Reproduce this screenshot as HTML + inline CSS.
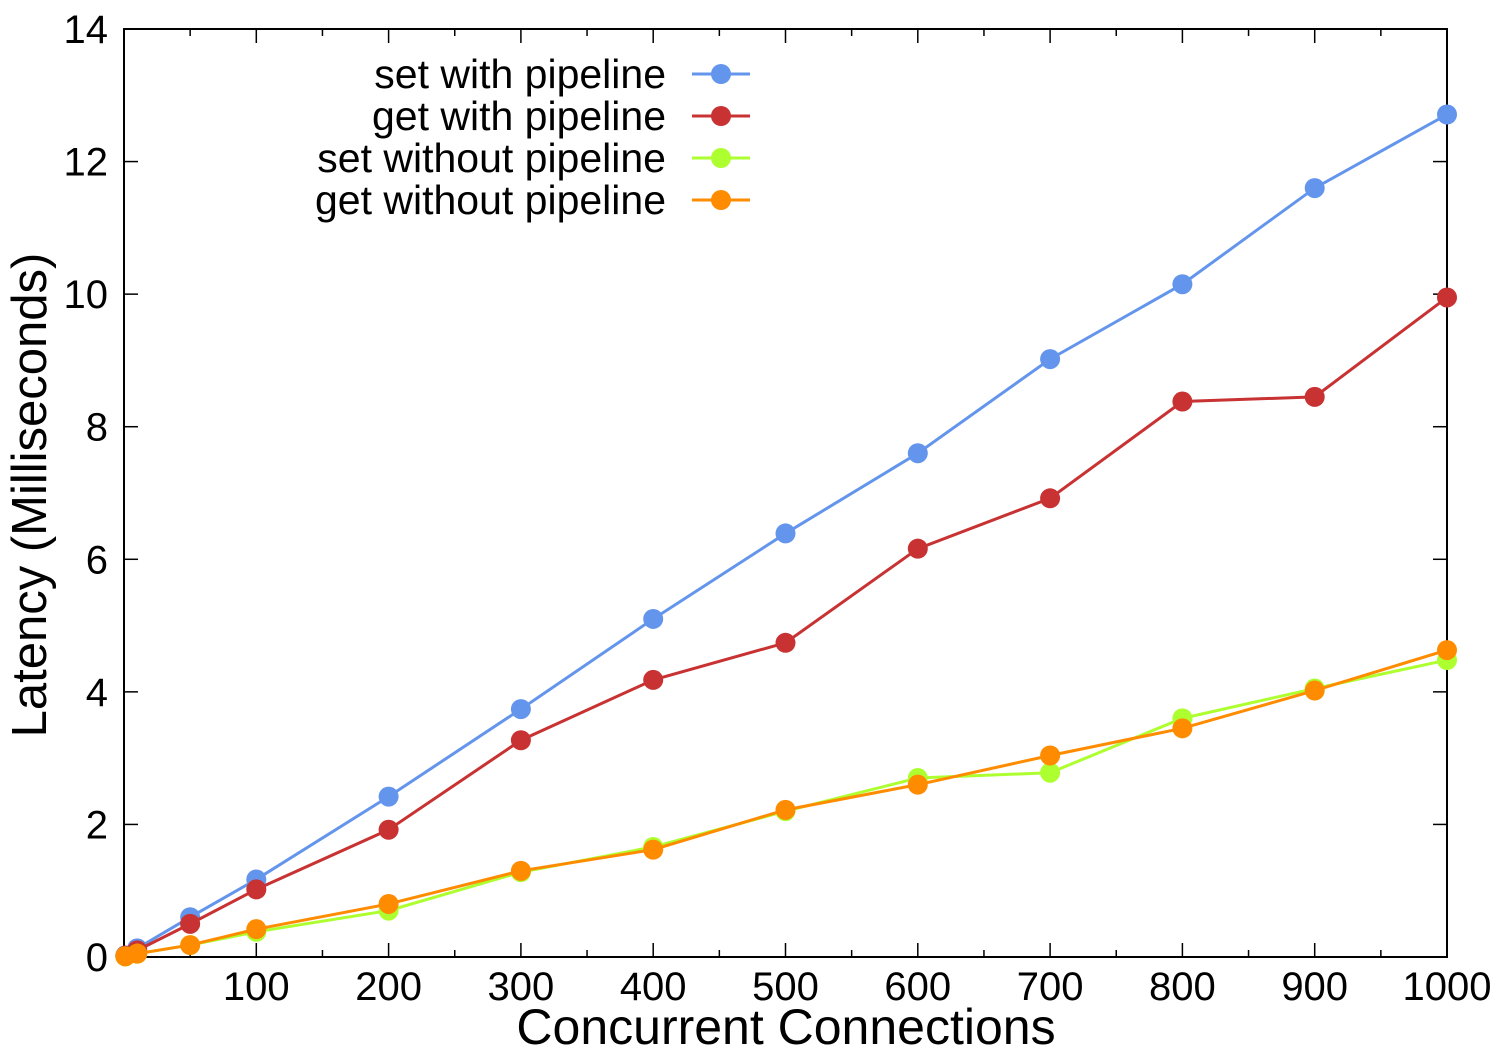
<!DOCTYPE html>
<html><head><meta charset="utf-8"><style>
html,body{margin:0;padding:0;background:#fff;}
svg{display:block;font-family:"Liberation Sans",sans-serif;}
</style></head><body>
<svg id="chart" width="1500" height="1050">
<g id="axes"></g><g id="series"></g><g id="legend"></g>
</svg>
<script>
const xs=[1,10,50,100,200,300,400,500,600,700,800,900,1000];
const setPipe=[0.02,0.13,0.6,1.17,2.42,3.74,5.1,6.39,7.6,9.02,10.15,11.6,12.71];
const getPipe=[0.02,0.1,0.5,1.02,1.92,3.27,4.18,4.74,6.16,6.92,8.38,8.45,9.95];
const setNoPipe=[0.01,0.05,0.18,0.38,0.7,1.28,1.66,2.2,2.7,2.78,3.6,4.05,4.48];
const getNoPipe=[0.01,0.05,0.18,0.42,0.8,1.3,1.62,2.22,2.6,3.04,3.45,4.02,4.63];
const xTicks=[100,200,300,400,500,600,700,800,900,1000];
const yTicks=[0,2,4,6,8,10,12,14];
const seriesNames=["set with pipeline","get with pipeline","set without pipeline","get without pipeline"];
const seriesColors=["#6495ed","#c83232","#adff2f","#ff8c00"];
const seriesData=[setPipe,getPipe,setNoPipe,getNoPipe];

const L=124,R=1447,T=29,B=957;
const X=v=>L+(v/1000)*(R-L);
const Y=v=>B-(v/14)*(B-T);
const NS="http://www.w3.org/2000/svg";
function mk(tag,attrs,parent,text){const e=document.createElementNS(NS,tag);for(const k in attrs)e.setAttribute(k,attrs[k]);if(text!==undefined)e.textContent=text;parent.appendChild(e);return e;}
const axes=document.getElementById('axes');
let frame=mk('rect',{x:L,y:T,width:R-L,height:B-T,fill:'none',stroke:'#000','stroke-width':2},axes);


for(let v=50;v<=1000;v+=50){
  const major=v%100===0;const len=major?14:7;
  mk('line',{x1:X(v),x2:X(v),y1:B,y2:B-len,stroke:'#000','stroke-width':1.5},axes);
  mk('line',{x1:X(v),x2:X(v),y1:T,y2:T+len,stroke:'#000','stroke-width':1.5},axes);
}
xTicks.forEach(v=>{
  const t=mk('text',{x:X(v),y:1000,'font-size':40,'text-anchor':'middle'},axes,String(v));
  
  
});
yTicks.forEach(v=>{
  mk('line',{x1:L,x2:L+14,y1:Y(v),y2:Y(v),stroke:'#000','stroke-width':1.5},axes);
  mk('line',{x1:R,x2:R-14,y1:Y(v),y2:Y(v),stroke:'#000','stroke-width':1.5},axes);
  const t=mk('text',{x:108,y:Y(v)+14,'font-size':40,'text-anchor':'end'},axes,String(v));
  
  
});
let xt=mk('text',{x:786,y:1044,'font-size':50,'text-anchor':'middle'},axes,'Concurrent Connections');


let yt=mk('text',{x:0,y:0,'font-size':49,'text-anchor':'middle',transform:'translate(46,495) rotate(-90)'},axes,'Latency (Milliseconds)');



const sg=document.getElementById('series');
const lg=document.getElementById('legend');
seriesData.forEach((d,i)=>{
  const g=mk('g',{},sg);
  
  
  mk('polyline',{points:xs.map((x,j)=>X(x)+','+Y(d[j])).join(' '),fill:'none',stroke:seriesColors[i],'stroke-width':3},g);
  xs.forEach((x,j)=>{
    const c=mk('circle',{cx:X(x),cy:Y(d[j]),r:10,fill:seriesColors[i]},g);
    
    
  });
  const ly=74+i*42;
  const le=mk('g',{},lg);
  
  
  mk('text',{x:666,y:ly+14,'font-size':41,'text-anchor':'end'},le,seriesNames[i]);
  mk('line',{x1:692,x2:750,y1:ly,y2:ly,stroke:seriesColors[i],'stroke-width':3},le);
  mk('circle',{cx:721,cy:ly,r:10,fill:seriesColors[i]},le);
});
</script>
</body></html>
